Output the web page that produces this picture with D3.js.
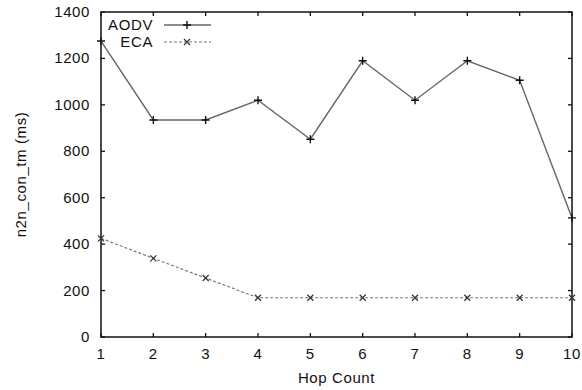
<!DOCTYPE html>
<html>
<head>
<meta charset="utf-8">
<script src="https://cdn.jsdelivr.net/npm/d3@7"></script>
<style>
body { margin: 0; background: #fff; }
text { font-family: "Liberation Sans", Arial, sans-serif; fill: #111; letter-spacing: 0.6px; }
</style>
</head>
<body>
<div id="chart"></div>
<script>
var hops = [1, 2, 3, 4, 5, 6, 7, 8, 9, 10];
var aodv = [1275, 935, 935, 1020, 852, 1190, 1020, 1190, 1106, 513];
var eca = [425, 339, 254, 169, 169, 169, 169, 169, 169, 169];
var yTicks = [0, 200, 400, 600, 800, 1000, 1200, 1400];

var width = 582, height = 390,
margin = {top: 12, right: 10, bottom: 53, left: 101};

var svg = d3.select("#chart").append("svg")
.attr("width", width)
.attr("height", height);

var x = d3.scaleLinear().domain([1, 10]).range([margin.left, width - margin.right]);
var y = d3.scaleLinear().domain([0, 1400]).range([height - margin.bottom, margin.top]);

var x0 = x.range()[0], x1 = x.range()[1], y0 = y.range()[0], y1 = y.range()[1];

// gnuplot style inward ticks on all four sides
var tk = 4;
var g = svg.append("g").attr("stroke", "#111").attr("stroke-width", 1.3);
yTicks.forEach(function(v) {
	g.append("line").attr("x1", x0).attr("x2", x0 + tk).attr("y1", y(v)).attr("y2", y(v));
	g.append("line").attr("x1", x1).attr("x2", x1 - tk).attr("y1", y(v)).attr("y2", y(v));
});
hops.forEach(function(v) {
	g.append("line").attr("x1", x(v)).attr("x2", x(v)).attr("y1", y0).attr("y2", y0 - tk);
	g.append("line").attr("x1", x(v)).attr("x2", x(v)).attr("y1", y1).attr("y2", y1 + tk);
});

svg.append("rect")
.attr("x", x0).attr("y", y1)
.attr("width", x1 - x0).attr("height", y0 - y1)
.attr("fill", "none").attr("stroke", "#111").attr("stroke-width", 1.5);

svg.selectAll(".ylab").data(yTicks).enter().append("text")
.attr("x", x0 - 11).attr("y", function(d) { return y(d) + 5; })
.attr("text-anchor", "end").attr("font-size", 15)
.text(function(d) { return d; });

svg.selectAll(".xlab").data(hops).enter().append("text")
.attr("x", function(d) { return x(d); }).attr("y", y0 + 22)
.attr("text-anchor", "middle").attr("font-size", 15)
.text(function(d) { return d; });

svg.append("text")
.attr("x", (x0 + x1) / 2).attr("y", 383)
.attr("text-anchor", "middle").attr("font-size", 15)
.text("Hop Count");

svg.append("text")
.attr("transform", "translate(26," + ((y0 + y1) / 2) + ") rotate(-90)")
.attr("text-anchor", "middle").attr("font-size", 15)
.text("n2n_con_tm (ms)");

var line = d3.line()
.x(function(d, i) { return x(hops[i]); })
.y(function(d) { return y(d); });

svg.append("path").datum(aodv)
.attr("d", line).attr("fill", "none")
.attr("stroke", "#666").attr("stroke-width", 1.4);

svg.append("path").datum(eca)
.attr("d", line).attr("fill", "none")
.attr("stroke", "#777").attr("stroke-width", 1.2)
.attr("stroke-dasharray", "3,2");

function plus(sel, cx, cy) {
	sel.append("path")
	.attr("d", "M" + (cx - 4) + "," + cy + "H" + (cx + 4) + "M" + cx + "," + (cy - 4) + "V" + (cy + 4))
	.attr("stroke", "#111").attr("stroke-width", 1.4);
}
function cross(sel, cx, cy) {
	sel.append("path")
	.attr("d", "M" + (cx - 3) + "," + (cy - 3) + "L" + (cx + 3) + "," + (cy + 3) + "M" + (cx - 3) + "," + (cy + 3) + "L" + (cx + 3) + "," + (cy - 3))
	.attr("stroke", "#333").attr("stroke-width", 1.2);
}

aodv.forEach(function(d, i) { plus(svg, x(hops[i]), y(d)); });
eca.forEach(function(d, i) { cross(svg, x(hops[i]), y(d)); });

// legend
var lg = svg.append("g");
lg.append("text").attr("x", 153).attr("y", 30).attr("text-anchor", "end").attr("font-size", 15).text("AODV");
lg.append("line").attr("x1", 164).attr("x2", 211).attr("y1", 25).attr("y2", 25)
.attr("stroke", "#666").attr("stroke-width", 1.4);
plus(lg, 187, 25);
lg.append("text").attr("x", 153).attr("y", 47).attr("text-anchor", "end").attr("font-size", 15).text("ECA");
lg.append("line").attr("x1", 164).attr("x2", 211).attr("y1", 42).attr("y2", 42)
.attr("stroke", "#777").attr("stroke-width", 1.2).attr("stroke-dasharray", "3,2");
cross(lg, 187, 42);
</script>
</body>
</html>
